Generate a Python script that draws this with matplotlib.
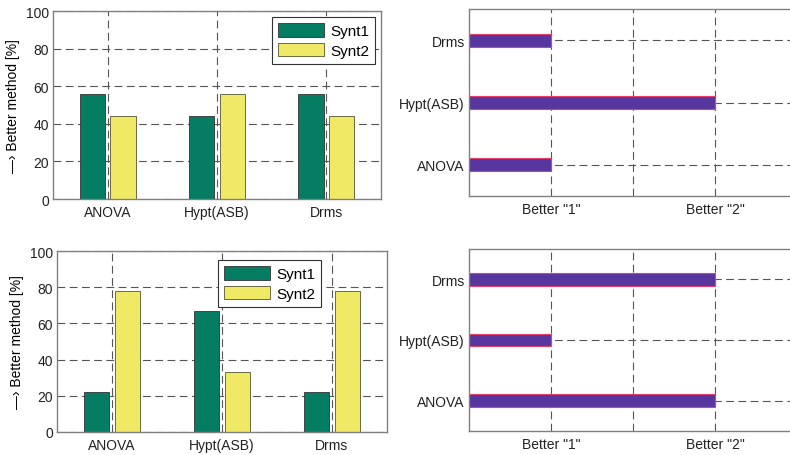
import numpy as np
import matplotlib
matplotlib.use('Agg')
import matplotlib.pyplot as plt

plt.rcParams['font.family'] = ['Liberation Sans', 'DejaVu Sans']
plt.rcParams['font.size'] = 10

METHODS = ['ANOVA', 'Hypt(ASB)', 'Drms']
SERIES = ['Synt1', 'Synt2']

# top row
top_synt1 = [55.6, 44.4, 55.6]
top_synt2 = [44.4, 55.6, 44.4]
top_better = [1, 2, 1]

# bottom row
bot_synt1 = [22.2, 66.7, 22.2]
bot_synt2 = [77.8, 33.3, 77.8]
bot_better = [2, 1, 2]

XTICKS_R = [1, 1.5, 2]
XTICKLABELS_R = ['Better "1"', '', 'Better "2"']

GREEN = '#047d63'
YELLOW = '#f0e966'
PURPLE = '#5836a0'
EDGE_RED = '#e2406a'
GRID = '#555555'
SPINE = '#808080'

W, H = 790, 456


def style_axes(ax):
    for s in ax.spines.values():
        s.set_color(SPINE)
        s.set_linewidth(1.0)
    ax.tick_params(length=0, colors='#222222', labelsize=10, pad=3)
    ax.set_axisbelow(True)
    ax.grid(True, linestyle=(0, (7, 4)), color=GRID, linewidth=0.8)


def bar_panel(ax, s1, s2, legend_anchor, legend_loc):
    x = np.arange(1, len(METHODS) + 1)
    ax.bar(x - 0.14, s1, width=0.23, color=GREEN, edgecolor='#333333', linewidth=0.6, label=SERIES[0])
    ax.bar(x + 0.14, s2, width=0.23, color=YELLOW, edgecolor='#555533', linewidth=0.6, label=SERIES[1])
    ax.set_xlim(0.5, 3.5)
    ax.set_ylim(0, 100)
    ax.set_xticks(x)
    ax.set_xticklabels(METHODS)
    ax.set_yticks([0, 20, 40, 60, 80, 100])
    ax.set_ylabel('\u2014\u203a Better method [%]', fontsize=10)
    style_axes(ax)
    ax.tick_params(axis='x', pad=4)
    leg = ax.legend(loc=legend_loc, bbox_to_anchor=legend_anchor, borderaxespad=0,
                    fancybox=False, framealpha=1, edgecolor='#333333',
                    handlelength=3.0, handleheight=1.0, fontsize=11,
                    borderpad=0.4, labelspacing=0.3, handletextpad=0.4)
    leg.get_frame().set_linewidth(0.8)


def better_panel(ax, better):
    y = np.arange(1, len(METHODS) + 1)
    ax.barh(y, better, height=0.21, color=PURPLE, edgecolor=EDGE_RED, linewidth=0.8)
    ax.set_xlim(0.5, 2.5)
    ax.set_ylim(0.5, 3.5)
    ax.set_yticks(y)
    ax.set_yticklabels(METHODS)
    ax.set_xticks(XTICKS_R)
    ax.set_xticklabels(XTICKLABELS_R)
    style_axes(ax)
    ax.tick_params(axis='x', pad=4)


fig = plt.figure(figsize=(W / 100, H / 100), dpi=100)

ax_tl = fig.add_axes([53 / W, 1 - 200 / H, 328 / W, 188 / H])
ax_bl = fig.add_axes([57 / W, 1 - 433 / H, 330 / W, 181 / H])
ax_tr = fig.add_axes([469 / W, 1 - 197 / H, 328 / W, 187 / H])
ax_br = fig.add_axes([469 / W, 1 - 432 / H, 328 / W, 182 / H])

bar_panel(ax_tl, top_synt1, top_synt2, (1 - 6 / 328, 1 - 6 / 188), 'upper right')
bar_panel(ax_bl, bot_synt1, bot_synt2, ((218 - 57) / 330, 1 - 9 / 181), 'upper left')
better_panel(ax_tr, top_better)
better_panel(ax_br, bot_better)

fig.savefig('out.png', dpi=100)
